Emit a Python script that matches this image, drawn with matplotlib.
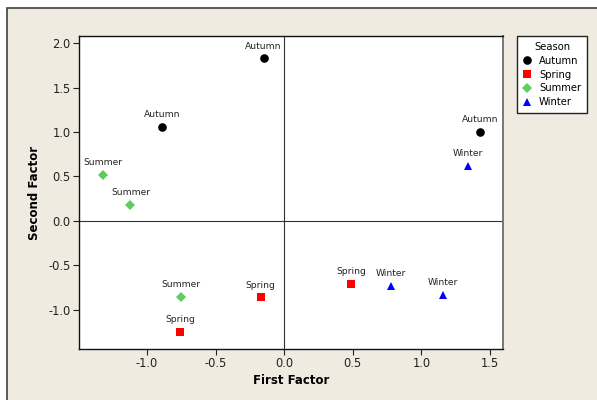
import matplotlib
matplotlib.use("Agg")
import matplotlib.pyplot as plt
from matplotlib.patches import Rectangle

plt.rcParams['font.family'] = ['DejaVu Sans']

# Factor scores for each observation, grouped by season
seasons = ["Autumn", "Spring", "Summer", "Winter"]
autumn_x = [-0.15, -0.89, 1.43]
autumn_y = [1.83, 1.06, 1.00]
spring_x = [-0.76, -0.17, 0.49]
spring_y = [-1.25, -0.86, -0.71]
summer_x = [-1.32, -1.12, -0.75]
summer_y = [0.52, 0.18, -0.85]
winter_x = [1.34, 0.78, 1.16]
winter_y = [0.62, -0.73, -0.83]

xticks = [-1.0, -0.5, 0.0, 0.5, 1.0, 1.5]
yticks = [-1.0, -0.5, 0.0, 0.5, 1.0, 1.5, 2.0]

styles = {
    "Autumn": dict(marker="o", color="black", ms=6.2),
    "Spring": dict(marker="s", color="#ff0000", ms=5.2),
    "Summer": dict(marker="D", color="#5fcc5f", ms=4.8),
    "Winter": dict(marker="^", color="#0000ff", ms=6.0),
}
data = {
    "Autumn": (autumn_x, autumn_y),
    "Spring": (spring_x, spring_y),
    "Summer": (summer_x, summer_y),
    "Winter": (winter_x, winter_y),
}

W, H = 597, 400
fig = plt.figure(figsize=(W / 100, H / 100), dpi=100)
fig.patch.set_facecolor("white")

# Beige panel behind the chart
fig.patches.append(Rectangle((7 / W, -0.05), 1.1, (H - 8) / H + 0.05,
                             transform=fig.transFigure, facecolor="#efebe1",
                             edgecolor="#404040", linewidth=1.2, zorder=-10))

ax = fig.add_axes([79 / W, (H - 349) / H, (503 - 79) / W, (349 - 36) / H])
ax.set_zorder(1)
ax.set_facecolor("white")
ax.set_xlim(-1.495, 1.595)
ax.set_ylim(-1.44, 2.08)

ax.axhline(0, color="#333333", lw=0.8, zorder=1)
ax.axvline(0, color="#333333", lw=0.8, zorder=1)

for s in seasons:
    xs, ys = data[s]
    st = styles[s]
    ax.plot(xs, ys, linestyle="none", marker=st["marker"], color=st["color"],
            markersize=st["ms"], markeredgewidth=0, label=s, zorder=3)
    for x, y in zip(xs, ys):
        ax.annotate(s, (x, y), xytext=(0, 5.5), textcoords="offset points",
                    ha="center", va="bottom", fontsize=6.6, color="#222222")

ax.set_xticks(xticks)
ax.set_yticks(yticks)
ax.set_xticklabels([f"{t:.1f}" for t in xticks])
ax.set_yticklabels([f"{t:.1f}" for t in yticks])
ax.tick_params(axis="both", direction="out", length=4, width=0.8,
               labelsize=8.3, colors="#222222", pad=2)
ax.tick_params(top=False, right=False)

for side in ["left", "bottom", "top"]:
    ax.spines[side].set_color("#111111")
    ax.spines[side].set_linewidth(1.0)
ax.spines["right"].set_color("#777777")
ax.spines["right"].set_linewidth(1.4)

ax.set_xlabel("First Factor", fontsize=8.5, fontweight="bold", labelpad=3)
ax.set_ylabel("Second Factor", fontsize=8.5, fontweight="bold", labelpad=5)

leg = fig.legend(loc="upper left", bbox_to_anchor=(517 / W, 1 - 36 / H),
                 title="Season", fontsize=7.2, title_fontsize=7.2,
                 frameon=True, fancybox=False, handlelength=0.8,
                 handletextpad=0.8, borderpad=0.6, labelspacing=0.38,
                 borderaxespad=0)
leg.get_frame().set_edgecolor("#222222")
leg.get_frame().set_linewidth(1.0)
leg.get_frame().set_facecolor("white")
leg.get_frame().set_alpha(1.0)
leg.set_zorder(5)

fig.savefig("out.png", dpi=100)
